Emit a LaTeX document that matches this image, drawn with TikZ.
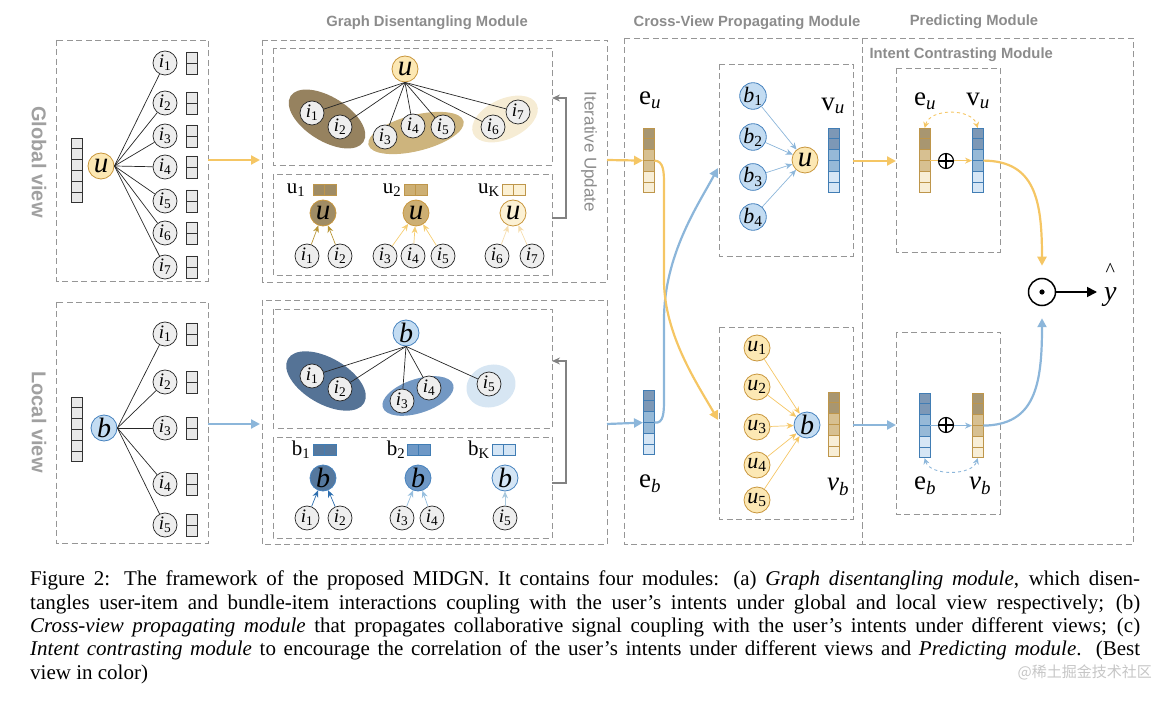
\documentclass[tikz,border=0pt]{standalone}
\usepackage{fontspec}
\setmainfont{Liberation Serif}
\setsansfont{Liberation Sans}
\newfontfamily\cjkfont{Noto Sans CJK SC}
\usetikzlibrary{positioning,shapes.geometric,arrows.meta}

\definecolor{ylw}{RGB}{245,198,100}
\definecolor{blu}{RGB}{140,182,218}
\definecolor{usrfill}{RGB}{252,232,180}
\definecolor{usrdraw}{RGB}{200,150,60}
\definecolor{bndfill}{RGB}{195,220,242}
\definecolor{bnddraw}{RGB}{70,130,190}
\definecolor{boxgray}{RGB}{150,150,150}
\definecolor{titlegray}{RGB}{140,140,140}
\definecolor{itmfill}{RGB}{238,238,238}
\definecolor{cellgray}{RGB}{232,232,232}
\definecolor{brA}{RGB}{168,150,112}
\definecolor{brB}{RGB}{215,192,145}
\definecolor{brC}{RGB}{248,238,214}
\definecolor{brdraw}{RGB}{190,150,75}
\definecolor{blA}{RGB}{125,152,182}
\definecolor{blB}{RGB}{150,185,215}
\definecolor{blC}{RGB}{214,230,245}
\definecolor{bldraw}{RGB}{65,125,180}
\definecolor{gelA}{RGB}{150,130,95}
\definecolor{gelB}{RGB}{205,180,125}
\definecolor{gelC}{RGB}{246,236,212}
\definecolor{lelA}{RGB}{85,115,150}
\definecolor{lelB}{RGB}{115,152,195}
\definecolor{lelC}{RGB}{215,230,243}
\definecolor{guA}{RGB}{160,140,100}
\definecolor{guB}{RGB}{205,175,115}
\definecolor{guC}{RGB}{252,241,212}
\definecolor{garA}{RGB}{185,150,55}
\definecolor{garB}{RGB}{246,206,115}
\definecolor{garC}{RGB}{246,222,175}
\definecolor{lbA}{RGB}{85,120,158}
\definecolor{lbB}{RGB}{110,152,198}
\definecolor{lbC}{RGB}{212,229,245}
\definecolor{larA}{RGB}{45,110,175}
\definecolor{larB}{RGB}{150,190,222}
\definecolor{larC}{RGB}{168,200,222}
\definecolor{itergray}{RGB}{130,130,130}

\newcommand{\ilab}[1]{\textit{i}\textsubscript{#1}}
% vertical column of six cells: name, left x, top y, border, fills
\newcommand{\sixvec}[5]{%
  \foreach \fc [count=\k from 0] in {#5} {\filldraw[fill=\fc, draw=#4, line width=0.8pt] (#2,#3+\k*10.8) rectangle ++(11,10.8);}
  \node[inner sep=0pt, minimum width=11pt, minimum height=64.8pt, anchor=north west] (#1) at (#2,#3) {};}
\newcommand{\twov}[4]{\filldraw[fill=#3, draw=#4, line width=0.8pt] (#1-5.5,#2-11) rectangle ++(11,11) (#1-5.5,#2) rectangle ++(11,11);}
\newcommand{\twoh}[4]{\filldraw[fill=#3, draw=#4, line width=0.8pt] (#1,#2-5.5) rectangle ++(11.5,11) (#1+11.5,#2-5.5) rectangle ++(11.5,11);}

\tikzset{
  dashbox/.style={draw=boxgray, dash pattern=on 6pt off 3.5pt, line width=0.9pt},
  title/.style={text=titlegray, font=\sffamily\bfseries\fontsize{14.8}{15}\selectfont},
  sidelabel/.style={text=boxgray!90, font=\sffamily\bfseries\fontsize{20}{20}\selectfont},
  iterlabel/.style={text=titlegray, font=\sffamily\fontsize{17}{17}\selectfont},
  itm/.style={circle, draw=black!85, fill=itmfill, line width=0.7pt, minimum size=24pt, inner sep=0pt, font=\fontsize{19}{19}\selectfont},
  usr/.style={circle, draw=usrdraw, fill=usrfill, line width=0.8pt, minimum size=26pt, inner sep=0pt, font=\fontsize{29}{29}\selectfont},
  bnd/.style={circle, draw=bnddraw, fill=bndfill, line width=0.8pt, minimum size=26pt, inner sep=0pt, font=\fontsize{28}{28}\selectfont},
  vlab/.style={inner sep=0pt, font=\fontsize{27}{27}\selectfont},
  strlab/.style={inner sep=0pt, font=\fontsize{21}{21}\selectfont},
  edge/.style={draw=black!85, line width=0.7pt},
  iter/.style={draw=itergray, line width=1.3pt, -{Stealth[length=8pt,width=7pt]}},
  bigylw/.style={draw=ylw, line width=2.2pt, -{Triangle[length=9pt,width=9pt]}},
  bigblu/.style={draw=blu, line width=2.2pt, -{Triangle[length=9pt,width=9pt]}},
  thin/.style={line width=0.7pt, -{Stealth[length=7pt,width=6pt]}},
  contrast/.style={line width=0.9pt, dashed, {Stealth[length=6pt,width=6pt]}-{Stealth[length=6pt,width=6pt]}},
}

\begin{document}
\begin{tikzpicture}[x=1pt,y=-1pt]
\useasboundingbox (0,0) rectangle (1170,703);

% module titles
\node[title] (t-gd) at (427,23) {Graph Disentangling Module};
\node[title] (t-cv) at (747,23) {Cross-View Propagating Module};
\node[title] (t-pr) at (974,22) {Predicting Module};
\node[title, anchor=west] (t-ic) at (866,55) {Intent Contrasting Module};

% dashed boxes
\draw[dashbox] (56,40) rectangle (208,281);
\draw[dashbox] (56,302) rectangle (208,543);
\draw[dashbox] (262,40) rectangle (607,282);
\draw[dashbox] (273,48) rectangle (552,165);
\draw[dashbox] (273,174) rectangle (552,275);
\draw[dashbox] (262,300) rectangle (607,544);
\draw[dashbox] (273,309) rectangle (552,428);
\draw[dashbox] (273,437) rectangle (552,538);
\draw[dashbox] (624,38) rectangle (862,544);
\draw[dashbox] (719,64) rectangle (853,256);
\draw[dashbox] (719,327) rectangle (853,519);
\draw[dashbox] (862,38) rectangle (1133,544);
\draw[dashbox] (896,68) rectangle (1000,252);
\draw[dashbox] (896,332) rectangle (1000,514);

\node[sidelabel, rotate=-90] (l-gv) at (39,162) {Global view};
\node[sidelabel, rotate=-90] (l-lv) at (39,422) {Local view};

% global view
\sixvec{gvec}{71}{138}{black!80}{cellgray,cellgray,cellgray,cellgray,cellgray,cellgray}
\node[usr] (gu) at (101,166) {\textit{u}};
\foreach \n/\y in {1/63,2/103,3/136,4/167,5/201,6/233,7/267} {
  \node[itm] (gi\n) at (165,\y) {\ilab{\n}};
  \draw[edge] (gu.east) -- (gi\n);
  \twov{192}{\y}{cellgray}{black!80}
}

% local view
\sixvec{lvec}{71}{397}{black!80}{cellgray,cellgray,cellgray,cellgray,cellgray,cellgray}
\node[bnd] (lb) at (104,428) {\textit{b}};
\foreach \n/\y in {1/334,2/382,3/428,4/484,5/525} {
  \node[itm] (li\n) at (165,\y) {\ilab{\n}};
  \draw[edge] (lb.east) -- (li\n);
  \twov{192}{\y}{cellgray}{black!80}
}

% graph disentangling, global
\node[ellipse, fill=gelA, minimum width=86pt, minimum height=44pt, rotate=-32] (gel1) at (327,119) {};
\node[ellipse, fill=gelB, minimum width=98pt, minimum height=36pt, rotate=14] (gel2) at (416,133) {};
\node[ellipse, fill=gelC, minimum width=70pt, minimum height=40pt, rotate=25] (gel3) at (505,119) {};
\node[usr] (gdu) at (405,69) {\textit{u}};
\foreach \n/\x/\y in {1/312/113,2/340/127,3/385/137,4/413/126,5/443/127,6/493/127,7/518/112} {
  \node[itm] (gdi\n) at (\x,\y) {\ilab{\n}};
  \draw[edge] (gdu.south) -- (gdi\n);
}
\node[strlab] (gdl1) at (296,190) {u\textsubscript{1}};
\twoh{313}{190}{guA}{brdraw}
\node[strlab] (gdl2) at (392,190) {u\textsubscript{2}};
\twoh{404}{190}{guB}{brdraw}
\node[strlab] (gdl3) at (489,190) {u\textsubscript{K}};
\twoh{502}{190}{guC}{brdraw}
\node[usr, fill=guA] (gdk1) at (323,213) {\textit{u}};
\node[usr, fill=guB] (gdk2) at (416,213) {\textit{u}};
\node[usr, fill=guC] (gdk3) at (513,213) {\textit{u}};
\foreach \n/\x in {1/307,2/340,3/385,4/413,5/443,6/497,7/532} {
  \node[itm] (gdj\n) at (\x,256) {\ilab{\n}};
}
\draw[thin, draw=garA] (gdj1) -- (gdk1);
\draw[thin, draw=garA] (gdj2) -- (gdk1);
\draw[thin, draw=garB] (gdj3) -- (gdk2);
\draw[thin, draw=garB] (gdj4) -- (gdk2);
\draw[thin, draw=garB] (gdj5) -- (gdk2);
\draw[thin, draw=garC] (gdj6) -- (gdk3);
\draw[thin, draw=garC] (gdj7) -- (gdk3);
\coordinate (gd-it-s) at (552,218);
\coordinate (gd-it-e) at (552,98);
\draw[iter] (gd-it-s) -- (566,218) -- (566,98) -- (gd-it-e);
\node[iterlabel, rotate=-90] (gd-itl) at (589,152) {Iterative Update};

% graph disentangling, local
\node[ellipse, fill=lelA, minimum width=88pt, minimum height=46pt, rotate=-30] (lel1) at (326,381) {};
\node[ellipse, fill=lelB, minimum width=74pt, minimum height=34pt, rotate=18] (lel2) at (418,396) {};
\node[ellipse, fill=lelC, minimum width=50pt, minimum height=42pt, rotate=20] (lel3) at (491,386) {};
\node[bnd] (ldb) at (406,333) {\textit{b}};
\foreach \n/\x/\y in {1/312/376,2/340/389,3/402/401,4/429/388,5/489/384} {
  \node[itm] (ldi\n) at (\x,\y) {\ilab{\n}};
  \draw[edge] (ldb.south) -- (ldi\n);
}
\node[strlab] (ldl1) at (301,450) {b\textsubscript{1}};
\twoh{313}{450}{lbA}{bldraw}
\node[strlab] (ldl2) at (396,450) {b\textsubscript{2}};
\twoh{407}{450}{lbB}{bldraw}
\node[strlab] (ldl3) at (479,450) {b\textsubscript{K}};
\twoh{492}{450}{lbC}{bldraw}
\node[bnd, fill=lbA] (ldk1) at (323,478) {\textit{b}};
\node[bnd, fill=lbB] (ldk2) at (418,478) {\textit{b}};
\node[bnd, fill=lbC] (ldk3) at (505,478) {\textit{b}};
\foreach \n/\x in {1/307,2/340,3/402,4/432,5/505} {
  \node[itm] (ldj\n) at (\x,518) {\ilab{\n}};
}
\draw[thin, draw=larA] (ldj1) -- (ldk1);
\draw[thin, draw=larA] (ldj2) -- (ldk1);
\draw[thin, draw=larB] (ldj3) -- (ldk2);
\draw[thin, draw=larB] (ldj4) -- (ldk2);
\draw[thin, draw=larC] (ldj5) -- (ldk3);
\coordinate (ld-it-s) at (552,483);
\coordinate (ld-it-e) at (552,361);
\draw[iter] (ld-it-s) -- (566,483) -- (566,361) -- (ld-it-e);

% view -> disentangling -> cross-view
\coordinate (gv-out) at (208,160);
\coordinate (gd-in) at (260,160);
\coordinate (gd-out) at (607,160);
\coordinate (lv-out) at (208,424);
\coordinate (ld-in) at (260,424);
\coordinate (ld-out) at (607,424);

% cross-view propagating
\sixvec{peu}{643}{128}{brdraw}{brA,brA,brB,brB,brC,brC}
\node[vlab] (peu-l) at (650,100) {e\textsubscript{\textit{u}}};
\sixvec{peb}{643}{390}{bldraw}{blA,blA,blB,blB,blC,blC}
\node[vlab] (peb-l) at (650,484) {e\textsubscript{\textit{b}}};
\draw[bigylw] (gv-out) -- (gd-in);
\draw[bigblu] (lv-out) -- (ld-in);
\draw[bigylw] (gd-out) -- (peu.west);
\draw[bigblu] (ld-out) -- (peb.west);

\node[usr] (xu) at (805,160) {\textit{u}};
\foreach \n/\y in {1/96,2/137,3/177,4/217} {
  \node[bnd, font=\fontsize{22}{22}\selectfont] (xb\n) at (753,\y) {\textit{b}\textsubscript{\n}};
  \draw[thin, draw=blu] (xb\n) -- (xu);
}
\sixvec{pvu}{828}{128}{bldraw}{blA,blA,blB,blB,blC,blC}
\node[vlab] (pvu-l) at (833,106) {v\textsubscript{\textit{u}}};

\node[bnd] (xb) at (807,425) {\textit{b}};
\foreach \n/\y in {1/348,2/387,3/427,4/465,5/500} {
  \node[usr, font=\fontsize{22}{22}\selectfont] (xu\n) at (757,\y) {\textit{u}\textsubscript{\n}};
  \draw[thin, draw=ylw] (xu\n) -- (xb);
}
\sixvec{pvb}{828}{392}{brdraw}{brA,brA,brB,brB,brC,brC}
\node[vlab] (pvb-l) at (838,487) {\textit{v}\textsubscript{\textit{b}}};

\coordinate (xu-in) at (718,168);
\coordinate (xb-in) at (718,420);
\draw[bigblu] (peb.east) .. controls (664,424) and (664,412) .. (664,398) -- (664,320) .. controls (664,255) and (698,205) .. (xu-in);
\draw[bigylw] (peu.east) .. controls (664,161) and (664,172) .. (664,186) -- (664,280) .. controls (664,335) and (698,385) .. (xb-in);

% intent contrasting and predicting
\coordinate (xu-out) at (853,161);
\coordinate (qu-in) at (896,161);
\coordinate (xb-out) at (853,425);
\coordinate (qb-in) at (896,425);
\draw[bigylw] (xu-out) -- (qu-in);
\draw[bigblu] (xb-out) -- (qb-in);

\sixvec{qeu}{919}{128}{brdraw}{brA,brA,brB,brB,brC,brC}
\sixvec{qvu}{972}{128}{bldraw}{blA,blA,blB,blB,blC,blC}
\node[vlab] (qeu-l) at (925,101) {e\textsubscript{\textit{u}}};
\node[vlab] (qvu-l) at (978,101) {v\textsubscript{\textit{u}}};
\draw[thin, draw=ylw, line width=1.6pt] (qeu.east) -- (qvu.west);
\node[circle, draw=black, line width=1.1pt, minimum size=15pt, inner sep=0pt] (opu) at (946,161) {};
\draw[line width=1.1pt] (opu.north) -- (opu.south) (opu.west) -- (opu.east);
\draw[contrast, draw=ylw] (qeu.north) .. controls (930,108) and (972,108) .. (qvu.north);

\sixvec{qeb}{919}{393}{bldraw}{blA,blA,blB,blB,blC,blC}
\sixvec{qvb}{972}{393}{brdraw}{brA,brA,brB,brB,brC,brC}
\node[vlab] (qeb-l) at (925,486) {e\textsubscript{\textit{b}}};
\node[vlab] (qvb-l) at (980,486) {\textit{v}\textsubscript{\textit{b}}};
\draw[thin, draw=blu, line width=1.6pt] (qeb.east) -- (qvb.west);
\node[circle, draw=black, line width=1.1pt, minimum size=15pt, inner sep=0pt] (opb) at (946,425) {};
\draw[line width=1.1pt] (opb.north) -- (opb.south) (opb.west) -- (opb.east);
\draw[contrast, draw=blu] (qeb.south) .. controls (930,476) and (972,476) .. (qvb.south);

\node[circle, draw=black, line width=1.5pt, minimum size=27pt, inner sep=0pt] (odot) at (1042,292) {};
\fill (odot.center) circle (2.6);
\node[inner sep=0pt, anchor=west, align=center, font=\fontsize{28}{28}\selectfont] (yhat) at (1104,285) {{\fontsize{20}{20}\selectfont\^{}}\\[-4pt]\textit{y}};
\draw[line width=1.8pt, -{Triangle[length=10pt,width=10pt]}, shorten >=7pt] (odot.east) -- (odot.east -| yhat.west);
\draw[bigylw, shorten >=12pt] (qvu.east) .. controls (1035,161) and (1042,200) .. (odot.north);
\draw[bigblu, shorten >=12pt] (qvb.east) .. controls (1035,425) and (1042,385) .. (odot.south);

% caption
\node[anchor=north west, text width=1110pt, align=justify, inner sep=0pt, font=\fontsize{21}{23.3}\selectfont] (cap) at (30,571) {Figure 2: The framework of the proposed MIDGN. It contains four modules: (a) \textit{Graph disentangling module}, which disen-\linebreak tangles user-item and bundle-item interactions coupling with the user’s intents under global and local view respectively; (b)\linebreak \textit{Cross-view propagating module} that propagates collaborative signal coupling with the user’s intents under different views; (c)\linebreak \textit{Intent contrasting module} to encourage the correlation of the user’s intents under different views and \textit{Predicting module}. (Best\linebreak view in color)};
\node[anchor=east, inner sep=0pt, text=gray!45, font=\cjkfont\fontsize{15}{15}\selectfont] (wm) at (1152,672) {@稀土掘金技术社区};
\end{tikzpicture}
\end{document}
